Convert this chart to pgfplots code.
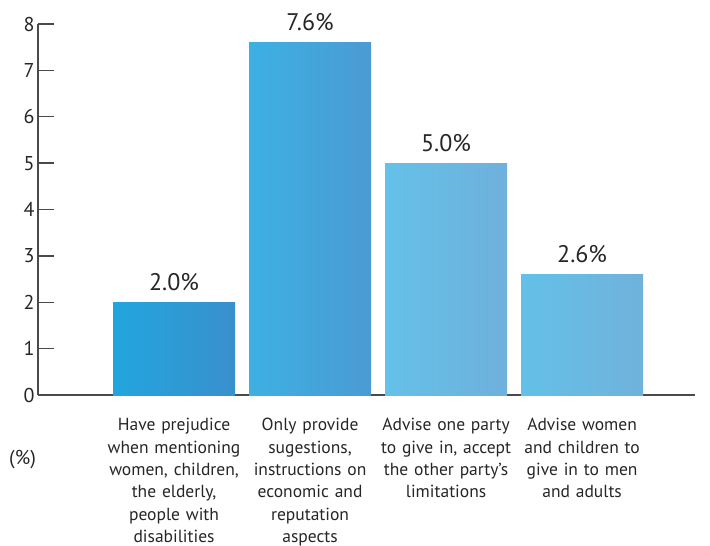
\documentclass[border=0pt]{standalone}
\usepackage{fontspec}
\setmainfont{PT Sans}
\usepackage{pgfplots}
\pgfplotsset{compat=1.18}
\definecolor{axisgray}{HTML}{4A4A4A}
\definecolor{aL}{HTML}{22A5DE}
\definecolor{aR}{HTML}{3990CC}
\definecolor{bL}{HTML}{3DB0E3}
\definecolor{bR}{HTML}{4A9BD3}
\definecolor{cL}{HTML}{64C1E9}
\definecolor{cR}{HTML}{6FB0DC}
\definecolor{dL}{HTML}{63C0E8}
\definecolor{dR}{HTML}{70B2DC}
\begin{document}
\begin{tikzpicture}
\useasboundingbox (-38pt,-151pt) rectangle (672pt,395pt);
\begin{axis}[
  at={(0,0)}, anchor=south west,
  scale only axis, width=657pt, height=371pt,
  xmin=0, xmax=4.83, ymin=0, ymax=8,
  axis x line=bottom, axis y line=left,
  axis line style={axisgray, line width=1.3pt, -},
  ytick={0,1,2,3,4,5,6,7,8},
  tick align=inside, major tick length=16pt,
  ytick style={axisgray, line width=1.3pt},
  xtick={1,2,3,4},
  xticklabels={
    {Have prejudice\\when mentioning\\women, children,\\the elderly,\\people with\\disabilities},
    {Only provide\\sugestions,\\instructions on\\economic and\\reputation\\aspects},
    {Advise one party\\to give in, accept\\the other party's\\limitations},
    {Advise women\\and children to\\give in to men\\and adults}},
  x tick style={draw=none},
  xticklabel style={font=\fontsize{17.5}{22.3}\selectfont, text width=150pt, align=center, anchor=north, yshift=-4pt, text=black!85},
  yticklabel style={font=\fontsize{20}{22}\selectfont, text=black!85},
  /pgf/number format/assume math mode=true,
  ybar, bar width=122pt, bar shift=0pt,
  nodes near coords,
  point meta=explicit symbolic,
  nodes near coords style={font=\fontsize{24}{26}\selectfont, text=black!85, yshift=8pt},
  clip=false,
]
\addplot[draw=none, left color=aL, right color=aR] coordinates {(1,2.0) [2.0\%]};
\addplot[draw=none, left color=bL, right color=bR] coordinates {(2,7.6) [7.6\%]};
\addplot[draw=none, left color=cL, right color=cR] coordinates {(3,5.0) [5.0\%]};
\addplot[draw=none, left color=dL, right color=dR] coordinates {(4,2.6) [2.6\%]};
\node[anchor=west, font=\fontsize{20}{22}\selectfont, text=black!85, inner sep=0pt] at ([xshift=-29pt,yshift=-65pt]rel axis cs:0,0) {(\%)};
\end{axis}
\end{tikzpicture}
\end{document}
